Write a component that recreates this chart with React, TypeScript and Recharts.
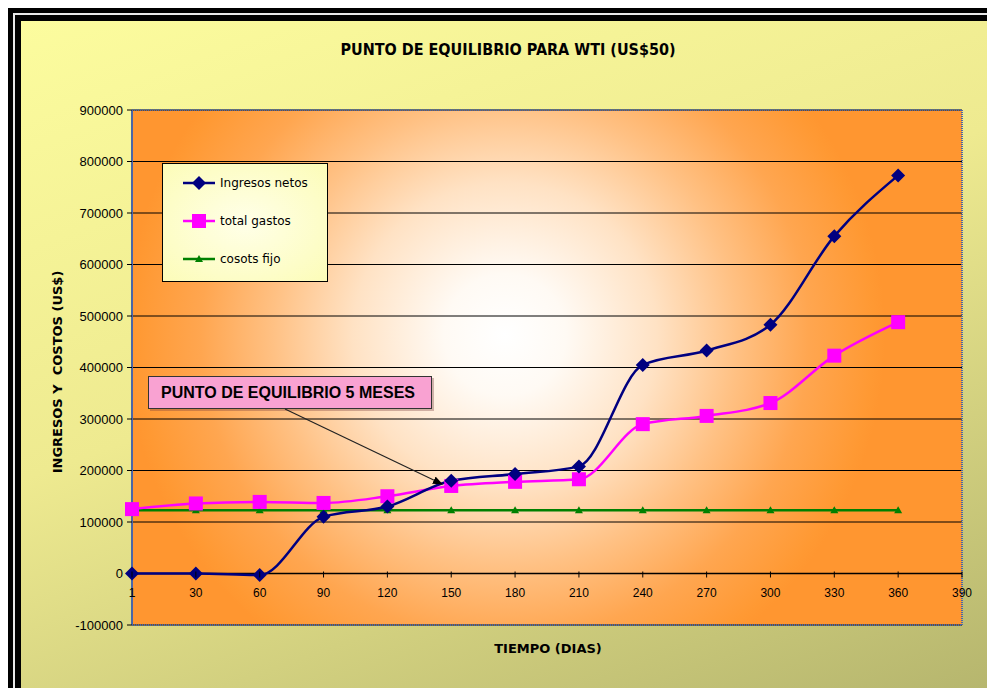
import React from "react";
import {
  LineChart,
  Line,
  XAxis,
  YAxis,
  CartesianGrid,
  ReferenceLine,
  ReferenceArea,
  Legend,
} from "recharts";

// --------------------
// Datos
// --------------------
const dias = ["1", "30", "60", "90", "120", "150", "180", "210", "240", "270", "300", "330", "360", "390"];
const ingresosNetos = [0, 0, -3000, 110000, 130000, 180000, 193000, 208000, 405000, 433000, 483000, 655000, 773000, null];
const totalGastos = [125000, 136000, 139000, 137000, 150000, 170000, 178000, 183000, 290000, 306000, 331000, 423000, 488000, null];
const costosFijo = [123000, 123000, 123000, 123000, 123000, 123000, 123000, 123000, 123000, 123000, 123000, 123000, 123000, null];
const yTicks = [-100000, 0, 100000, 200000, 300000, 400000, 500000, 600000, 700000, 800000, 900000];

const data = dias.map((d, i) => ({
  dia: d,
  ingresos: ingresosNetos[i],
  gastos: totalGastos[i],
  fijo: costosFijo[i],
}));

const series = [
  { key: "ingresos", name: "Ingresos netos", color: "#000080", marker: "diamond" },
  { key: "gastos", name: "total gastos", color: "#ff00ff", marker: "square" },
  { key: "fijo", name: "cosots fijo", color: "#008000", marker: "triangle" },
];

const FONT = "'Liberation Sans', Arial, sans-serif";
const BOLD_FONT = "'DejaVu Sans', Verdana, sans-serif";

// --------------------
// Marcadores
// --------------------
function Marker({ cx, cy, kind, color }: any) {
  if (cx == null || cy == null) return null;
  if (kind === "diamond")
    return <polygon points={`${cx},${cy - 7} ${cx + 7},${cy} ${cx},${cy + 7} ${cx - 7},${cy}`} fill={color} />;
  if (kind === "square") return <rect x={cx - 7} y={cy - 7} width={14} height={14} fill={color} />;
  return <polygon points={`${cx},${cy - 4} ${cx + 4},${cy + 3} ${cx - 4},${cy + 3}`} fill={color} />;
}

// --------------------
// Ticks eje X (sobre la línea cero: 1/10 del alto del área)
// --------------------
function XTick({ x, y, payload }: any) {
  const lineY = y - 51.5;
  return (
    <g>
      <line x1={x} x2={x} y1={lineY - 2} y2={lineY + 4} stroke="#000" />
      <text x={x} y={lineY + 23} textAnchor="middle" fontSize={12} fontFamily={FONT} fill="#000">
        {payload.value}
      </text>
    </g>
  );
}

function LegendBox() {
  return (
    <div
      style={{
        width: 166,
        height: 119,
        boxSizing: "border-box",
        border: "1px solid #000",
        background: "radial-gradient(ellipse at center, #ffffe8 0%, #fcfcb8 100%)",
        paddingTop: 0,
        paddingLeft: 20,
      }}
    >
      {series.map((s) => (
        <div key={s.key} style={{ display: "flex", alignItems: "center", height: 38 }}>
          <svg width={34} height={14}>
            <line x1={0} x2={32} y1={7} y2={7} stroke={s.color} strokeWidth={2.5} />
            <Marker cx={16} cy={7} kind={s.marker} color={s.color} />
          </svg>
          <span style={{ fontFamily: BOLD_FONT, fontSize: 12, marginLeft: 3, color: "#000" }}>{s.name}</span>
        </div>
      ))}
    </div>
  );
}

export default function App() {
  return (
    <div style={{ position: "relative", width: 995, height: 696, margin: -8, background: "#000", overflow: "hidden" }}>
      {/* marco */}
      <div
        style={{
          position: "absolute",
          left: 13,
          top: 13,
          width: 977,
          height: 677,
          borderLeft: "2px solid #e8e8e8",
          borderTop: "2px solid #e8e8e8",
        }}
      />
      <div
        style={{
          position: "absolute",
          left: 21,
          top: 21,
          width: 968,
          height: 668,
          background: "linear-gradient(160deg, #fcfc9e 0%, #eeea90 45%, #b6b66e 100%)",
        }}
      />

      <div style={{ position: "absolute", left: 0, top: 0 }}>
        <LineChart width={995} height={696} data={data} margin={{ top: 110, right: 33, bottom: 41, left: 0 }}>
          <defs>
            <radialGradient id="plotBg" gradientUnits="userSpaceOnUse" cx={505} cy={335} r={380}>
              <stop offset="0%" stopColor="#ffffff" />
              <stop offset="16%" stopColor="#fffaf4" />
              <stop offset="40%" stopColor="#ffe2c4" />
              <stop offset="61%" stopColor="#ffc184" />
              <stop offset="80%" stopColor="#ffa650" />
              <stop offset="97%" stopColor="#ff9933" />
              <stop offset="100%" stopColor="#ff9630" />
            </radialGradient>
          </defs>
          <CartesianGrid vertical={false} stroke="#000" fill="url(#plotBg)" fillOpacity={1} />
          <XAxis
            dataKey="dia"
            height={30}
            axisLine={false}
            tickLine={false}
            tickSize={0}
            tickMargin={0}
            tick={<XTick />}
            interval={0}
          />
          <YAxis
            width={132}
            domain={[-100000, 900000]}
            ticks={yTicks}
            interval={0}
            axisLine={{ stroke: "#4a66a8", strokeDasharray: "1 1", strokeWidth: 2 }}
            tickLine={{ stroke: "#000" }}
            tickSize={5}
            tickMargin={4}
            tick={{ fontSize: 13, fontFamily: FONT, fill: "#000" }}
          />
          <ReferenceArea
            x1="1"
            x2="390"
            y1={-100000}
            y2={900000}
            fill="none"
            stroke="#4a66a8"
            strokeDasharray="1 1"
            strokeWidth={2}
          />
          <ReferenceLine y={0} stroke="#000" strokeWidth={1.5} />
          <Legend
            layout="vertical"
            align="center"
            verticalAlign="middle"
            content={<LegendBox />}
            wrapperStyle={{ left: 162, top: 163, width: 166, height: 119 }}
          />
          <Line
            dataKey="fijo"
            name="cosots fijo"
            type="linear"
            stroke="#008000"
            strokeWidth={2.5}
            dot={(p: any) => <Marker key={p.index} {...p} kind="triangle" color="#008000" />}
            isAnimationActive={false}
          />
          <Line
            dataKey="gastos"
            name="total gastos"
            type="monotone"
            stroke="#ff00ff"
            strokeWidth={2.5}
            dot={(p: any) => <Marker key={p.index} {...p} kind="square" color="#ff00ff" />}
            isAnimationActive={false}
          />
          <Line
            dataKey="ingresos"
            name="Ingresos netos"
            type="monotone"
            stroke="#000080"
            strokeWidth={2.5}
            dot={(p: any) => <Marker key={p.index} {...p} kind="diamond" color="#000080" />}
            isAnimationActive={false}
          />
        </LineChart>
      </div>

      {/* título */}
      <div
        style={{
          position: "absolute",
          left: 0,
          width: 1016,
          top: 40,
          textAlign: "center",
          fontFamily: "'Liberation Sans Narrow', 'DejaVu Sans Condensed', Arial, sans-serif",
          fontWeight: "bold",
          fontSize: 16,
          color: "#000",
        }}
      >
        PUNTO DE EQUILIBRIO PARA WTI (US$50)
      </div>

      {/* título eje Y */}
      <div
        style={{
          position: "absolute",
          left: 57,
          top: 372,
          transform: "translate(-50%, -50%) rotate(-90deg)",
          whiteSpace: "nowrap",
          fontFamily: BOLD_FONT,
          fontWeight: "bold",
          fontSize: 13,
          color: "#000",
        }}
      >
        INGRESOS Y&nbsp; COSTOS (US$)
      </div>

      {/* título eje X */}
      <div
        style={{
          position: "absolute",
          left: 548,
          top: 648,
          transform: "translate(-50%, -50%)",
          whiteSpace: "nowrap",
          fontFamily: BOLD_FONT,
          fontWeight: "bold",
          fontSize: 13,
          color: "#000",
        }}
      >
        TIEMPO (DIAS)
      </div>

      {/* anotación */}
      <div
        style={{
          position: "absolute",
          left: 148,
          top: 376,
          width: 284,
          height: 33,
          boxSizing: "border-box",
          border: "1px solid #333",
          background: "#f9a2d2",
          boxShadow: "2px 2px 0 rgba(120,60,60,0.35)",
          fontFamily: FONT,
          fontWeight: "bold",
          fontSize: 16,
          lineHeight: "31px",
          paddingLeft: 12,
          color: "#000",
          whiteSpace: "nowrap",
        }}
      >
        PUNTO DE EQUILIBRIO 5 MESES
      </div>
      <svg style={{ position: "absolute", left: 0, top: 0 }} width={995} height={696}>
        <defs>
          <marker id="arrow" markerWidth="10" markerHeight="8" refX="9" refY="4" orient="auto" markerUnits="userSpaceOnUse">
            <path d="M0,0 L10,4 L0,8 z" fill="#000" />
          </marker>
        </defs>
        <line x1={285} y1={409} x2={442} y2={484} stroke="#222" strokeWidth={1.2} markerEnd="url(#arrow)" />
      </svg>
    </div>
  );
}
